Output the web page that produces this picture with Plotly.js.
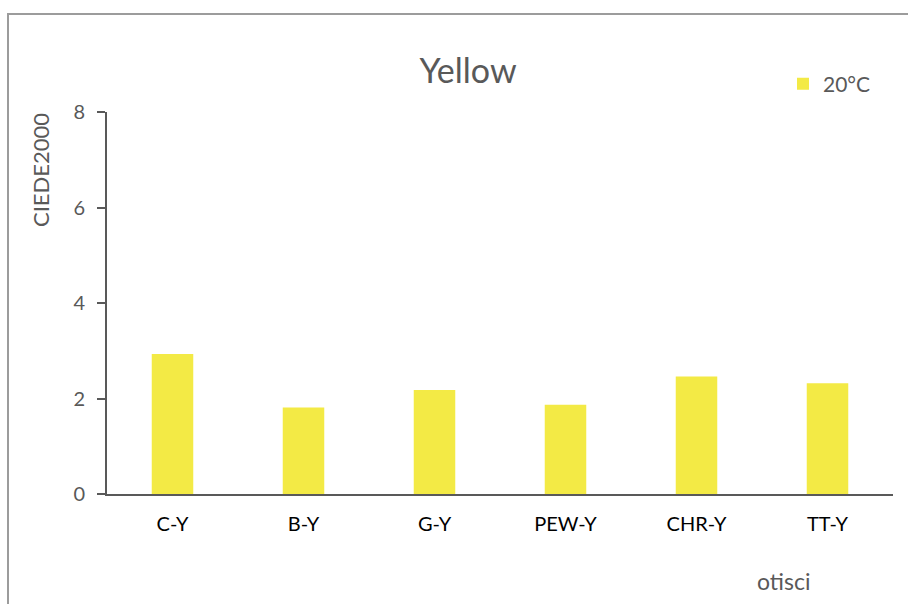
<!DOCTYPE html>
<html>
<head>
<meta charset="utf-8">
<script src="https://cdn.plot.ly/plotly-3.0.1.min.js"></script>
<style>html,body{margin:0;padding:0;background:#fff;}#chart{width:908px;height:604px;}</style>
</head>
<body>
<div id="chart"></div>
<script>
const categories = ["C-Y", "B-Y", "G-Y", "PEW-Y", "CHR-Y", "TT-Y"];
const values20C = [2.93, 1.81, 2.18, 1.87, 2.46, 2.32];
const seriesName = "20°C";
const yTicks = [0, 2, 4, 6, 8];

const FONT = "Lato, 'Open Sans', sans-serif";
const GRAY = "#595959";

const trace = {
  type: "bar",
  x: categories,
  y: values20C,
  name: seriesName,
  marker: {color: "#F3EA45"},
  showlegend: true
};

const L = 107, R = 893, T = 112, B = 494, W = 908, H = 604;
const px = v => (v - L) / (R - L);
const py = v => (B - v) / (B - T);

const layout = {
  width: W, height: H,
  margin: {l: L, r: W - R, t: T, b: H - B, pad: 0},
  paper_bgcolor: "#fff", plot_bgcolor: "#fff",
  font: {family: FONT, color: GRAY, size: 16},
  bargap: 0.683,
  title: {text: "Yellow", font: {family: FONT, size: 34, color: GRAY}, x: 468 / W, xanchor: "center", y: 1 - 71 / H, yanchor: "middle"},
  xaxis: {
    type: "category",
    showline: true, linecolor: GRAY, linewidth: 2,
    ticks: "", showgrid: false, zeroline: false,
    tickfont: {family: FONT, size: 20, color: "#000"},
    ticklabelstandoff: 11
  },
  yaxis: {
    range: [0, 8], tickvals: yTicks,
    showline: true, linecolor: GRAY, linewidth: 2,
    ticks: "outside", ticklen: 8, tickwidth: 2, tickcolor: GRAY,
    showgrid: false, zeroline: false,
    tickfont: {family: FONT, size: 20, color: GRAY},
    ticklabelstandoff: 8
  },
  legend: {x: px(783), y: py(84), xanchor: "left", yanchor: "middle", font: {family: FONT, size: 21, color: GRAY}, bgcolor: "rgba(0,0,0,0)", itemwidth: 30},
  annotations: [
    {text: "CIEDE2000", xref: "paper", yref: "paper", x: px(40), y: py(170), textangle: -90, showarrow: false, font: {family: FONT, size: 22, color: GRAY}, xanchor: "center", yanchor: "middle"},
    {text: "otisci", xref: "paper", yref: "paper", x: px(783), y: py(581), showarrow: false, font: {family: FONT, size: 23, color: GRAY}, xanchor: "center", yanchor: "middle"}
  ],
  shapes: [
    {type: "rect", xref: "paper", yref: "paper", x0: px(8), x1: px(960), y0: py(660), y1: py(14), line: {color: "#9c9c9c", width: 2}, fillcolor: "rgba(0,0,0,0)", layer: "below"}
  ]
};

Plotly.newPlot("chart", [trace], layout, {displayModeBar: false, staticPlot: true});
</script>
</body>
</html>
